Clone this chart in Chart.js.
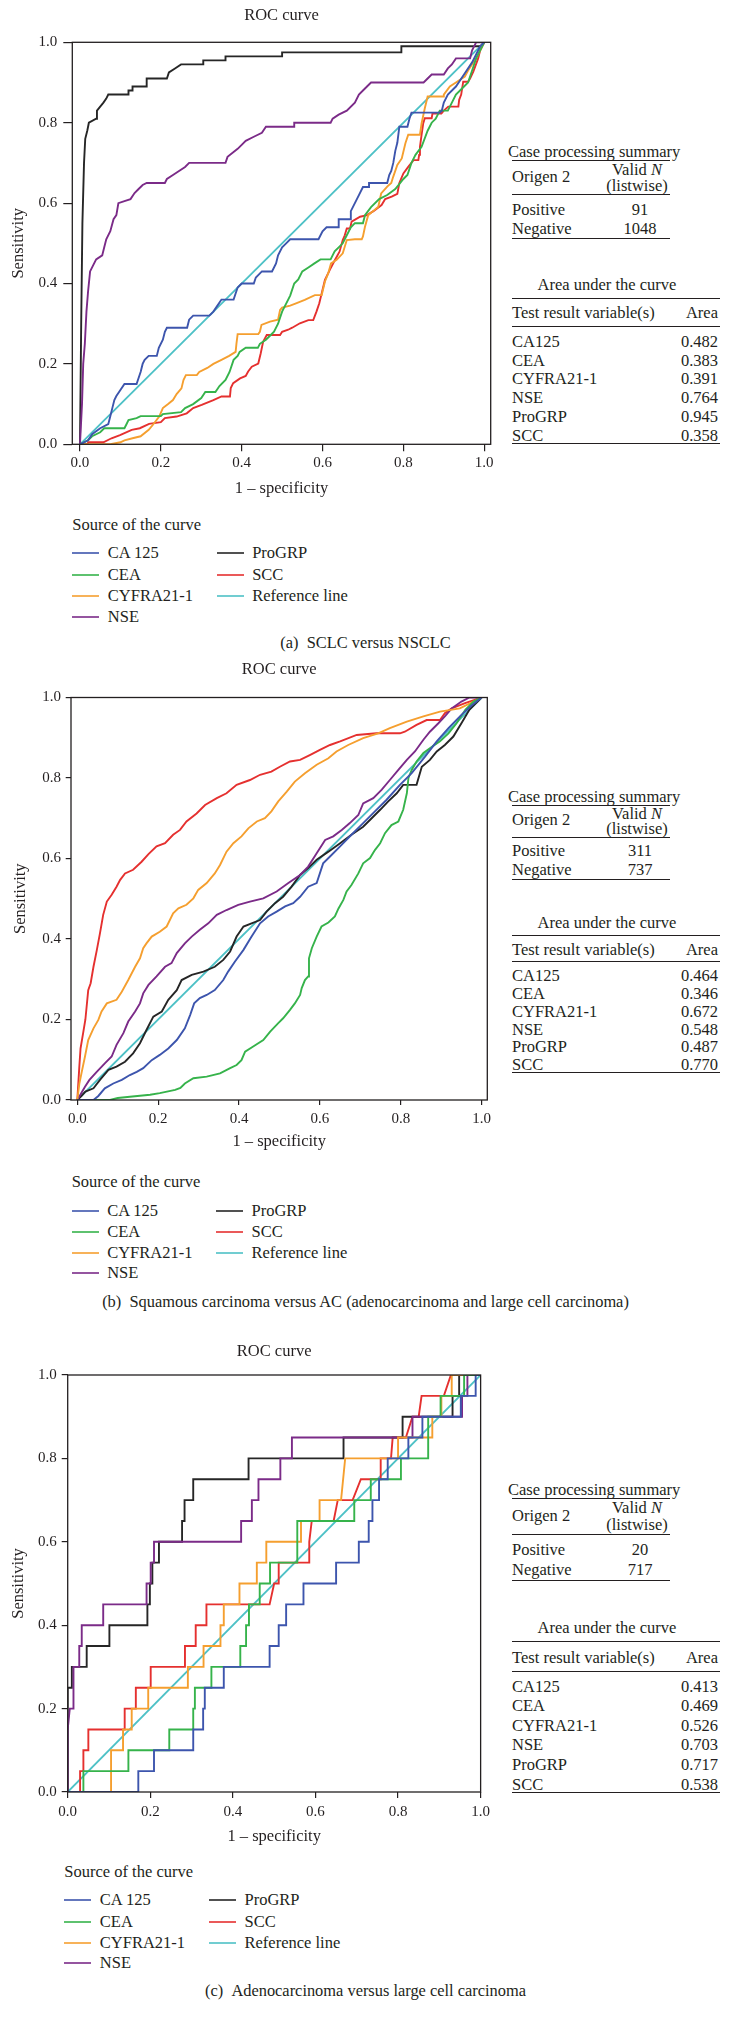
<!DOCTYPE html>
<html><head><meta charset="utf-8">
<script src="https://cdn.jsdelivr.net/npm/chart.js@4.4.1/dist/chart.umd.min.js"></script>
<style>
html,body{margin:0;padding:0;background:#fff;}
body{width:731px;height:2024px;position:relative;overflow:hidden;font-family:"Liberation Serif","Times New Roman",serif;color:#231f20;}
canvas{position:absolute;}
.t{position:absolute;white-space:nowrap;line-height:1;}
.hl{position:absolute;height:0;border-top:1.3px solid #231f20;}
.lg{position:absolute;height:0;}
</style></head><body>
<script>
// ---------- tick labels ----------
const xTicks = [0, 0.2, 0.4, 0.6, 0.8, 1.0];
const yTicks = [0, 0.2, 0.4, 0.6, 0.8, 1.0];

// ---------- legend / table categories ----------
const seriesNames = ['CA 125', 'CEA', 'CYFRA21-1', 'NSE', 'ProGRP', 'SCC', 'Reference line'];
const markers = ['CA125', 'CEA', 'CYFRA21-1', 'NSE', 'ProGRP', 'SCC'];
const seriesColors = ['#3d55ad', '#36b34b', '#f59f2f', '#7b2b88', '#262626', '#e5302f', '#4dc1c6'];

// ---------- tables ----------
const casesA = [91, 1048];
const aucA = [0.482, 0.383, 0.391, 0.764, 0.945, 0.358];
const casesB = [311, 737];
const aucB = [0.464, 0.346, 0.672, 0.548, 0.487, 0.770];
const casesC = [20, 717];
const aucC = [0.413, 0.469, 0.526, 0.703, 0.717, 0.538];

// ---------- panel (a) curves: [1 - specificity, sensitivity] ----------
const aCA125 = [[0,0],[0.02,0.01],[0.03,0.025],[0.05,0.04],[0.07,0.05],[0.075,0.07],[0.08,0.09],[0.085,0.11],[0.09,0.12],[0.1,0.135],[0.11,0.15],[0.14,0.15],[0.145,0.165],[0.15,0.18],[0.155,0.2],[0.16,0.21],[0.17,0.22],[0.19,0.22],[0.195,0.24],[0.205,0.26],[0.21,0.28],[0.215,0.29],[0.265,0.29],[0.27,0.31],[0.28,0.32],[0.32,0.32],[0.33,0.33],[0.34,0.345],[0.35,0.36],[0.38,0.36],[0.385,0.375],[0.39,0.39],[0.4,0.4],[0.43,0.4],[0.435,0.415],[0.45,0.43],[0.475,0.43],[0.485,0.45],[0.49,0.47],[0.5,0.49],[0.51,0.5],[0.52,0.51],[0.59,0.51],[0.6,0.53],[0.61,0.54],[0.64,0.54],[0.64,0.56],[0.668,0.56],[0.67,0.58],[0.68,0.6],[0.69,0.62],[0.7,0.64],[0.715,0.64],[0.715,0.65],[0.76,0.65],[0.765,0.67],[0.77,0.68],[0.775,0.7],[0.78,0.73],[0.785,0.75],[0.79,0.79],[0.81,0.79],[0.815,0.81],[0.82,0.825],[0.89,0.825],[0.895,0.83],[0.9,0.85],[0.91,0.87],[0.93,0.89],[0.95,0.92],[0.97,0.95],[0.99,0.99],[1,1]];
const aCEA = [[0,0],[0.02,0.01],[0.03,0.02],[0.05,0.03],[0.06,0.04],[0.11,0.04],[0.115,0.05],[0.12,0.06],[0.14,0.065],[0.15,0.07],[0.2,0.07],[0.205,0.075],[0.25,0.08],[0.26,0.09],[0.28,0.1],[0.3,0.115],[0.31,0.13],[0.335,0.13],[0.345,0.145],[0.36,0.16],[0.37,0.18],[0.38,0.21],[0.39,0.22],[0.395,0.23],[0.41,0.24],[0.44,0.24],[0.445,0.25],[0.46,0.26],[0.47,0.27],[0.48,0.28],[0.49,0.3],[0.5,0.33],[0.51,0.35],[0.52,0.37],[0.53,0.4],[0.54,0.41],[0.55,0.43],[0.565,0.44],[0.58,0.45],[0.595,0.46],[0.62,0.46],[0.63,0.48],[0.64,0.49],[0.65,0.5],[0.66,0.52],[0.67,0.54],[0.68,0.55],[0.7,0.55],[0.705,0.57],[0.72,0.59],[0.74,0.61],[0.76,0.62],[0.78,0.635],[0.8,0.66],[0.81,0.67],[0.82,0.7],[0.83,0.72],[0.845,0.74],[0.86,0.78],[0.87,0.8],[0.88,0.81],[0.89,0.83],[0.91,0.83],[0.92,0.85],[0.93,0.87],[0.95,0.89],[0.96,0.9],[0.97,0.93],[0.98,0.96],[0.99,0.98],[1,1]];
const aCYFRA = [[0,0],[0.075,0],[0.1,0.005],[0.11,0.01],[0.13,0.015],[0.15,0.02],[0.17,0.036],[0.18,0.048],[0.196,0.069],[0.205,0.09],[0.218,0.1],[0.23,0.11],[0.239,0.125],[0.251,0.139],[0.256,0.16],[0.262,0.172],[0.289,0.172],[0.295,0.18],[0.315,0.19],[0.33,0.2],[0.35,0.21],[0.369,0.22],[0.385,0.23],[0.387,0.25],[0.39,0.274],[0.441,0.274],[0.445,0.28],[0.449,0.297],[0.47,0.305],[0.49,0.31],[0.495,0.334],[0.5,0.34],[0.52,0.345],[0.536,0.351],[0.556,0.359],[0.581,0.371],[0.598,0.371],[0.6,0.38],[0.606,0.405],[0.614,0.425],[0.621,0.45],[0.635,0.459],[0.65,0.475],[0.66,0.508],[0.68,0.51],[0.697,0.51],[0.7,0.517],[0.705,0.541],[0.713,0.57],[0.725,0.58],[0.738,0.591],[0.745,0.624],[0.76,0.641],[0.77,0.65],[0.775,0.666],[0.785,0.695],[0.796,0.711],[0.805,0.749],[0.812,0.77],[0.841,0.77],[0.845,0.798],[0.853,0.836],[0.86,0.865],[0.899,0.865],[0.9,0.87],[0.915,0.89],[0.93,0.9],[0.952,0.915],[0.96,0.93],[0.973,0.95],[0.98,0.96],[0.99,0.98],[1,1]];
const aNSE = [[0,0],[0.005,0.1],[0.008,0.2],[0.012,0.25],[0.016,0.33],[0.02,0.38],[0.025,0.43],[0.03,0.44],[0.04,0.46],[0.055,0.47],[0.06,0.49],[0.065,0.51],[0.075,0.53],[0.083,0.56],[0.09,0.57],[0.095,0.6],[0.11,0.605],[0.125,0.61],[0.135,0.625],[0.145,0.635],[0.155,0.645],[0.165,0.65],[0.21,0.65],[0.215,0.66],[0.23,0.67],[0.245,0.68],[0.26,0.69],[0.27,0.7],[0.36,0.7],[0.365,0.715],[0.39,0.735],[0.4,0.745],[0.41,0.755],[0.43,0.765],[0.45,0.775],[0.46,0.79],[0.53,0.79],[0.53,0.8],[0.62,0.8],[0.625,0.81],[0.64,0.82],[0.66,0.83],[0.68,0.85],[0.69,0.87],[0.7,0.88],[0.71,0.89],[0.72,0.9],[0.85,0.9],[0.86,0.91],[0.87,0.92],[0.9,0.92],[0.91,0.935],[0.92,0.945],[0.93,0.96],[0.965,0.96],[0.97,0.98],[0.975,0.99],[0.98,1.0],[1,1]];
const aProGRP = [[0,0],[0.003,0.3],[0.006,0.55],[0.01,0.7],[0.013,0.76],[0.018,0.78],[0.022,0.8],[0.04,0.81],[0.042,0.83],[0.05,0.84],[0.058,0.85],[0.065,0.86],[0.07,0.87],[0.12,0.87],[0.12,0.88],[0.13,0.88],[0.13,0.89],[0.165,0.89],[0.165,0.91],[0.215,0.91],[0.22,0.925],[0.235,0.935],[0.25,0.945],[0.305,0.945],[0.305,0.955],[0.36,0.955],[0.36,0.965],[0.5,0.965],[0.5,0.975],[0.795,0.975],[0.795,0.99],[0.99,0.99],[1,1]];
const aSCC = [[0,0],[0.02,0],[0.02,0.005],[0.058,0.005],[0.078,0.015],[0.099,0.023],[0.128,0.036],[0.148,0.04],[0.171,0.051],[0.2,0.055],[0.21,0.065],[0.239,0.069],[0.264,0.077],[0.28,0.09],[0.301,0.098],[0.33,0.11],[0.35,0.119],[0.371,0.119],[0.373,0.14],[0.379,0.152],[0.396,0.164],[0.41,0.17],[0.416,0.181],[0.425,0.193],[0.441,0.201],[0.447,0.226],[0.453,0.255],[0.462,0.272],[0.495,0.272],[0.5,0.28],[0.515,0.285],[0.525,0.29],[0.544,0.301],[0.565,0.309],[0.577,0.309],[0.585,0.33],[0.592,0.351],[0.598,0.376],[0.606,0.409],[0.618,0.434],[0.631,0.459],[0.642,0.479],[0.65,0.508],[0.655,0.52],[0.66,0.537],[0.668,0.537],[0.672,0.554],[0.693,0.566],[0.71,0.57],[0.726,0.58],[0.746,0.595],[0.755,0.61],[0.771,0.616],[0.785,0.623],[0.79,0.65],[0.8,0.674],[0.812,0.69],[0.825,0.707],[0.837,0.707],[0.839,0.72],[0.841,0.74],[0.845,0.77],[0.849,0.798],[0.853,0.811],[0.87,0.811],[0.872,0.823],[0.894,0.823],[0.9,0.83],[0.911,0.84],[0.936,0.84],[0.938,0.857],[0.943,0.87],[0.948,0.902],[0.96,0.902],[0.965,0.91],[0.973,0.927],[0.985,0.96],[0.99,0.98],[1,1]];
const refLine = [[0,0],[1,1]];

// ---------- panel (b) curves ----------
const bCA125 = [[0,0],[0.04,0],[0.052,0.01],[0.068,0.029],[0.089,0.041],[0.11,0.05],[0.13,0.062],[0.147,0.07],[0.163,0.079],[0.184,0.099],[0.204,0.112],[0.225,0.128],[0.246,0.149],[0.266,0.178],[0.279,0.211],[0.289,0.24],[0.303,0.253],[0.32,0.261],[0.34,0.273],[0.361,0.298],[0.373,0.319],[0.39,0.344],[0.411,0.373],[0.431,0.406],[0.452,0.439],[0.472,0.456],[0.493,0.468],[0.514,0.481],[0.534,0.489],[0.551,0.505],[0.571,0.53],[0.592,0.539],[0.608,0.588],[0.625,0.605],[0.65,0.63],[0.678,0.659],[0.707,0.688],[0.736,0.717],[0.765,0.746],[0.798,0.783],[0.827,0.812],[0.86,0.853],[0.889,0.891],[0.918,0.924],[0.95,0.957],[0.975,0.98],[1,1]];
const bCEA = [[0,0],[0.081,0],[0.1,0.005],[0.13,0.008],[0.18,0.013],[0.204,0.017],[0.242,0.025],[0.255,0.03],[0.266,0.041],[0.287,0.054],[0.32,0.058],[0.353,0.066],[0.378,0.079],[0.394,0.087],[0.406,0.099],[0.415,0.12],[0.435,0.133],[0.46,0.149],[0.477,0.17],[0.497,0.191],[0.509,0.203],[0.526,0.224],[0.538,0.24],[0.551,0.261],[0.555,0.278],[0.563,0.298],[0.571,0.307],[0.573,0.352],[0.58,0.377],[0.592,0.406],[0.604,0.431],[0.621,0.441],[0.637,0.456],[0.646,0.476],[0.658,0.497],[0.666,0.518],[0.678,0.534],[0.695,0.563],[0.707,0.588],[0.724,0.601],[0.736,0.621],[0.749,0.638],[0.761,0.663],[0.777,0.683],[0.794,0.692],[0.806,0.721],[0.815,0.762],[0.819,0.8],[0.827,0.82],[0.839,0.841],[0.856,0.862],[0.872,0.874],[0.897,0.891],[0.918,0.911],[0.938,0.936],[0.96,0.97],[0.98,0.99],[1,1]];
const bCYFRA = [[0,0],[0.005,0.04],[0.011,0.07],[0.019,0.108],[0.027,0.149],[0.04,0.178],[0.052,0.199],[0.06,0.22],[0.073,0.24],[0.097,0.249],[0.11,0.269],[0.126,0.298],[0.143,0.331],[0.155,0.352],[0.163,0.377],[0.171,0.389],[0.184,0.406],[0.204,0.418],[0.221,0.431],[0.237,0.464],[0.25,0.476],[0.27,0.485],[0.287,0.501],[0.299,0.522],[0.32,0.539],[0.34,0.563],[0.353,0.584],[0.369,0.617],[0.386,0.638],[0.406,0.655],[0.423,0.675],[0.444,0.692],[0.464,0.7],[0.48,0.717],[0.497,0.742],[0.518,0.766],[0.538,0.791],[0.563,0.812],[0.592,0.833],[0.621,0.849],[0.641,0.866],[0.67,0.882],[0.707,0.899],[0.744,0.911],[0.773,0.924],[0.815,0.94],[0.856,0.953],[0.897,0.965],[0.946,0.973],[0.98,0.99],[1,1]];
const bNSE = [[0,0],[0.019,0.033],[0.03,0.05],[0.048,0.07],[0.068,0.091],[0.085,0.108],[0.097,0.137],[0.114,0.166],[0.126,0.195],[0.143,0.22],[0.155,0.24],[0.163,0.265],[0.176,0.286],[0.196,0.307],[0.217,0.331],[0.233,0.34],[0.246,0.365],[0.266,0.389],[0.283,0.406],[0.303,0.423],[0.324,0.439],[0.345,0.46],[0.369,0.472],[0.398,0.485],[0.427,0.493],[0.46,0.501],[0.493,0.518],[0.522,0.539],[0.551,0.559],[0.571,0.58],[0.592,0.613],[0.613,0.646],[0.633,0.655],[0.654,0.671],[0.674,0.688],[0.695,0.708],[0.707,0.737],[0.732,0.75],[0.753,0.771],[0.773,0.795],[0.794,0.82],[0.815,0.845],[0.835,0.866],[0.856,0.895],[0.872,0.915],[0.893,0.936],[0.909,0.953],[0.926,0.973],[0.95,0.99],[0.97,1],[1,1]];
const bProGRP = [[0,0],[0.01,0.01],[0.02,0.021],[0.04,0.029],[0.056,0.05],[0.077,0.075],[0.097,0.083],[0.118,0.095],[0.138,0.116],[0.155,0.141],[0.171,0.174],[0.188,0.207],[0.209,0.22],[0.225,0.249],[0.246,0.273],[0.258,0.298],[0.283,0.311],[0.312,0.319],[0.34,0.331],[0.361,0.348],[0.378,0.369],[0.394,0.406],[0.411,0.431],[0.431,0.439],[0.452,0.447],[0.468,0.468],[0.489,0.489],[0.509,0.505],[0.53,0.53],[0.551,0.559],[0.571,0.576],[0.592,0.597],[0.621,0.617],[0.65,0.638],[0.678,0.659],[0.707,0.679],[0.728,0.7],[0.749,0.721],[0.769,0.742],[0.79,0.762],[0.806,0.783],[0.839,0.783],[0.852,0.828],[0.872,0.845],[0.889,0.866],[0.909,0.882],[0.93,0.903],[0.95,0.936],[0.97,0.97],[0.99,0.99],[1,1]];
const bSCC = [[0,0],[0.005,0.083],[0.008,0.128],[0.015,0.17],[0.02,0.2],[0.027,0.273],[0.033,0.29],[0.04,0.331],[0.048,0.371],[0.056,0.414],[0.064,0.46],[0.073,0.493],[0.085,0.51],[0.097,0.53],[0.106,0.547],[0.118,0.563],[0.138,0.572],[0.159,0.592],[0.176,0.611],[0.196,0.63],[0.217,0.638],[0.237,0.659],[0.254,0.671],[0.27,0.692],[0.295,0.712],[0.316,0.733],[0.345,0.75],[0.369,0.762],[0.394,0.783],[0.427,0.795],[0.452,0.808],[0.48,0.816],[0.501,0.828],[0.526,0.841],[0.551,0.845],[0.575,0.857],[0.6,0.87],[0.625,0.882],[0.65,0.891],[0.691,0.907],[0.74,0.911],[0.798,0.911],[0.81,0.915],[0.839,0.932],[0.864,0.944],[0.897,0.944],[0.909,0.961],[0.926,0.973],[0.959,0.986],[1,1]];

// ---------- panel (c) curves ----------
const cCA125 = [[0,0],[0.171,0],[0.171,0.05],[0.209,0.05],[0.209,0.1],[0.304,0.1],[0.304,0.15],[0.328,0.15],[0.328,0.2],[0.332,0.2],[0.332,0.25],[0.378,0.25],[0.378,0.3],[0.489,0.3],[0.489,0.35],[0.511,0.35],[0.511,0.4],[0.529,0.4],[0.529,0.45],[0.571,0.45],[0.571,0.5],[0.65,0.5],[0.65,0.55],[0.705,0.55],[0.705,0.6],[0.729,0.6],[0.729,0.65],[0.738,0.65],[0.738,0.7],[0.754,0.7],[0.754,0.75],[0.775,0.75],[0.775,0.8],[0.825,0.8],[0.825,0.85],[0.859,0.85],[0.859,0.9],[0.952,0.9],[0.952,0.95],[0.988,0.95],[0.988,1],[1,1]];
const cCEA = [[0,0],[0.038,0],[0.038,0.05],[0.147,0.05],[0.147,0.1],[0.246,0.1],[0.246,0.15],[0.304,0.15],[0.304,0.2],[0.308,0.2],[0.308,0.25],[0.348,0.25],[0.348,0.3],[0.418,0.3],[0.418,0.35],[0.432,0.35],[0.432,0.4],[0.439,0.4],[0.439,0.45],[0.465,0.45],[0.465,0.5],[0.49,0.5],[0.49,0.55],[0.556,0.55],[0.556,0.65],[0.694,0.65],[0.694,0.7],[0.734,0.7],[0.734,0.75],[0.807,0.75],[0.807,0.8],[0.873,0.8],[0.873,0.9],[0.903,0.9],[0.903,0.95],[0.96,0.95],[0.96,1],[1,1]];
const cCYFRA = [[0,0],[0.105,0],[0.105,0.1],[0.134,0.1],[0.134,0.15],[0.155,0.15],[0.155,0.2],[0.195,0.2],[0.195,0.25],[0.291,0.25],[0.291,0.3],[0.329,0.3],[0.329,0.35],[0.37,0.35],[0.37,0.4],[0.378,0.4],[0.378,0.45],[0.416,0.45],[0.416,0.5],[0.458,0.5],[0.458,0.55],[0.481,0.55],[0.481,0.6],[0.565,0.6],[0.565,0.65],[0.61,0.65],[0.61,0.7],[0.662,0.7],[0.672,0.8],[0.8,0.8],[0.8,0.85],[0.883,0.85],[0.883,0.9],[0.905,0.9],[0.905,0.95],[0.93,0.95],[0.93,1],[1,1]];
const cNSE = [[0,0],[0,0.15],[0.005,0.2],[0.014,0.2],[0.014,0.3],[0.028,0.3],[0.028,0.35],[0.034,0.35],[0.034,0.4],[0.086,0.4],[0.086,0.45],[0.191,0.45],[0.191,0.5],[0.201,0.5],[0.201,0.55],[0.209,0.55],[0.209,0.6],[0.42,0.6],[0.42,0.65],[0.446,0.65],[0.446,0.7],[0.462,0.7],[0.462,0.75],[0.515,0.75],[0.515,0.8],[0.543,0.8],[0.543,0.85],[0.835,0.85],[0.835,0.9],[0.955,0.9],[0.955,0.95],[0.968,0.95],[0.968,1],[1,1]];
const cProGRP = [[0,0],[0,0.25],[0.01,0.25],[0.01,0.3],[0.046,0.3],[0.046,0.35],[0.101,0.35],[0.101,0.4],[0.193,0.4],[0.193,0.45],[0.199,0.45],[0.199,0.5],[0.205,0.5],[0.205,0.55],[0.221,0.55],[0.221,0.6],[0.277,0.6],[0.277,0.65],[0.283,0.65],[0.283,0.7],[0.304,0.7],[0.304,0.75],[0.438,0.75],[0.438,0.8],[0.668,0.8],[0.668,0.85],[0.811,0.85],[0.811,0.9],[0.932,0.9],[0.932,0.95],[0.948,0.95],[0.948,1],[1,1]];
const cSCC = [[0,0],[0.03,0],[0.03,0.05],[0.038,0.05],[0.038,0.1],[0.05,0.1],[0.05,0.15],[0.138,0.15],[0.138,0.2],[0.165,0.2],[0.165,0.25],[0.201,0.25],[0.201,0.3],[0.284,0.3],[0.284,0.35],[0.31,0.35],[0.31,0.4],[0.336,0.4],[0.336,0.45],[0.489,0.45],[0.5,0.5],[0.511,0.5],[0.511,0.55],[0.585,0.55],[0.585,0.6],[0.591,0.65],[0.644,0.65],[0.654,0.7],[0.69,0.7],[0.71,0.75],[0.758,0.75],[0.758,0.8],[0.783,0.8],[0.787,0.85],[0.819,0.85],[0.835,0.9],[0.85,0.9],[0.857,0.95],[0.911,0.95],[0.928,1],[1,1]];

// ---------- helpers ----------
const FONT = '"Liberation Serif", "Times New Roman", serif';
const INK = '#231f20';
const TXT = 16.5;

function txt(html, x, y, align, size) {
  const d = document.createElement('div');
  d.className = 't';
  d.innerHTML = html;
  d.style.left = x + 'px';
  d.style.top = y + 'px';
  d.style.fontSize = (size || TXT) + 'px';
  const tx = align === 'center' ? '-50%' : (align === 'right' ? '-100%' : '0');
  d.style.transform = 'translate(' + tx + ',-50%)';
  document.body.appendChild(d);
}
function hline(x1, x2, y) {
  const d = document.createElement('div');
  d.className = 'hl';
  d.style.left = x1 + 'px';
  d.style.width = (x2 - x1) + 'px';
  d.style.top = (y - 0.65) + 'px';
  document.body.appendChild(d);
}
function legendLine(x, y, color) {
  const d = document.createElement('div');
  d.className = 'lg';
  d.style.left = x + 'px';
  d.style.width = '27px';
  d.style.top = (y - 1) + 'px';
  d.style.borderTop = '2px solid ' + color;
  d.style.opacity = '0.8';
  document.body.appendChild(d);
}

const framePlugin = {
  id: 'frame',
  afterDraw(chart) {
    const {ctx, chartArea: {left, right, top, bottom}} = chart;
    ctx.save();
    ctx.strokeStyle = INK;
    ctx.lineWidth = 1.3;
    ctx.strokeRect(left, top, right - left, bottom - top);
    ctx.restore();
  }
};

function makeChart(cfg) {
  const cv = document.createElement('canvas');
  cv.width = cfg.W; cv.height = cfg.H;
  cv.style.left = '0px'; cv.style.top = cfg.top + 'px';
  cv.style.width = cfg.W + 'px'; cv.style.height = cfg.H + 'px';
  document.body.appendChild(cv);
  const datasets = cfg.series.map((pts, i) => ({
    label: seriesNames[i],
    data: pts.map(p => ({x: p[0], y: p[1]})),
    borderColor: seriesColors[i],
    backgroundColor: seriesColors[i],
    borderWidth: i === 6 ? 1.8 : 1.9,
    pointRadius: 0,
    showLine: true,
    fill: false,
    tension: 0
  }));
  new Chart(cv, {
    type: 'scatter',
    data: {datasets},
    options: {
      responsive: false,
      animation: false,
      devicePixelRatio: 1,
      layout: {padding: {left: 0, right: cfg.padR, top: 0, bottom: 0}},
      plugins: {
        legend: {display: false},
        tooltip: {enabled: false},
        title: {
          display: true, text: 'ROC curve', fullSize: false, color: INK,
          font: {family: FONT, size: 16.5, weight: 'normal'},
          padding: {top: cfg.titlePT, bottom: cfg.titlePB}
        }
      },
      scales: {
        x: {
          type: 'linear', min: cfg.xmin, max: cfg.xmax,
          afterBuildTicks: s => { s.ticks = xTicks.map(v => ({value: v})); },
          afterFit: s => { s.height = cfg.xH; },
          ticks: {callback: v => Number(v).toFixed(1), color: INK, font: {family: FONT, size: 15}, padding: cfg.xPad, maxRotation: 0, autoSkip: false},
          grid: {display: true, drawOnChartArea: false, drawTicks: true, tickLength: cfg.xTL, color: INK, lineWidth: 1.2},
          border: {display: false},
          title: {display: true, text: '1 \u2013 specificity', color: INK, font: {family: FONT, size: 16.5}, padding: {top: 0, bottom: cfg.xTitlePB}}
        },
        y: {
          type: 'linear', min: 0, max: 1,
          afterBuildTicks: s => { s.ticks = yTicks.map(v => ({value: v})); },
          afterFit: s => { s.width = cfg.yW; },
          ticks: {callback: v => Number(v).toFixed(1), color: INK, font: {family: FONT, size: 15}, padding: cfg.yPad, autoSkip: false},
          grid: {display: true, drawOnChartArea: false, drawTicks: true, tickLength: cfg.yTL, color: INK, lineWidth: 1.2},
          border: {display: false},
          title: {display: true, text: 'Sensitivity', color: INK, font: {family: FONT, size: 16.5}, padding: {top: cfg.yTitlePT, bottom: 0}}
        }
      }
    },
    plugins: [framePlugin]
  });
}

function table(C, S, cases, auc) {
  const f = v => C + v * S;
  txt('Case processing summary', 508, f(0));
  hline(511.7, 670, f(0.03));
  txt('Valid <i>N</i>', 637, f(0.06), 'center');
  txt('Origen 2', 512, f(0.085));
  txt('(listwise)', 637, f(0.117), 'center');
  hline(511.7, 670, f(0.147));
  txt('Positive', 512, f(0.197)); txt(String(cases[0]), 640, f(0.197), 'center');
  txt('Negative', 512, f(0.265)); txt(String(cases[1]), 640, f(0.265), 'center');
  hline(511.7, 670, f(0.298));
  txt('Area under the curve', 607, f(0.455), 'center');
  hline(511.7, 720, f(0.502));
  txt('Test result variable(s)', 512, f(0.553)); txt('Area', 718, f(0.553), 'right');
  hline(511.7, 720, f(0.598));
  markers.forEach((m, i) => {
    const y = f(0.65 + 0.0644 * i);
    txt(m, 512, y);
    txt(auc[i].toFixed(3), 718, y, 'right');
  });
  hline(511.7, 720, f(1));
}

function legend(x1, x2, yTitle, rows) {
  txt('Source of the curve', x1, yTitle);
  for (let i = 0; i < 4; i++) {
    legendLine(x1, rows[i], seriesColors[i]);
    txt(seriesNames[i], x1 + 35.5, rows[i]);
  }
  for (let i = 0; i < 3; i++) {
    legendLine(x2, rows[i], seriesColors[4 + i]);
    txt(seriesNames[4 + i], x2 + 35.5, rows[i]);
  }
}

// ---------- panel (a) ----------
makeChart({top: 0, W: 500, H: 500, yW: 72.3, padR: 9.3, xH: 55.7, xmin: -0.019, xmax: 1.016,
  titlePT: 5.8, titlePB: 16.7, xTL: 7, yTL: 9, xPad: 3, yPad: 6, xTitlePB: 1.1, yTitlePT: 8.4,
  series: [aCA125, aCEA, aCYFRA, aNSE, aProGRP, aSCC, refLine]});
table(152, 292, casesA, aucA);
legend(72.3, 216.7, 525, [553.3, 575, 596, 616.7]);
txt('(a)&nbsp;&nbsp;SCLC versus NSCLC', 365.5, 643.3, 'center', 16.4);

// ---------- panel (b) ----------
makeChart({top: 650, W: 500, H: 510, yW: 71, padR: 12.7, xH: 60, xmin: -0.0156, xmax: 1.014,
  titlePT: 10.1, titlePB: 17.6, xTL: 5, yTL: 5.3, xPad: 5, yPad: 4.7, xTitlePB: 8.1, yTitlePT: 10.8,
  series: [bCA125, bCEA, bCYFRA, bNSE, bProGRP, bSCC, refLine]});
table(797, 276, casesB, aucB);
legend(71.7, 216, 1182, [1211, 1231.7, 1252.7, 1273]);
txt('(b)&nbsp;&nbsp;Squamous carcinoma versus AC (adenocarcinoma and large cell carcinoma)', 365.5, 1301.7, 'center', 16.4);

// ---------- panel (c) ----------
makeChart({top: 1330, W: 495, H: 520, yW: 67.7, padR: 13.3, xH: 58, xmin: 0, xmax: 1,
  titlePT: 11.8, titlePB: 13.4, xTL: 6, yTL: 6, xPad: 5, yPad: 5, xTitlePB: 3.4, yTitlePT: 9.1,
  series: [cCA125, cCEA, cCYFRA, cNSE, cProGRP, cSCC, refLine]});
table(1490, 303, casesC, aucC);
legend(64.3, 209, 1871.7, [1900, 1921.7, 1942.7, 1963.3]);
txt('(c)&nbsp;&nbsp;Adenocarcinoma versus large cell carcinoma', 365.5, 1991, 'center', 16.4);
</script>
</body></html>
